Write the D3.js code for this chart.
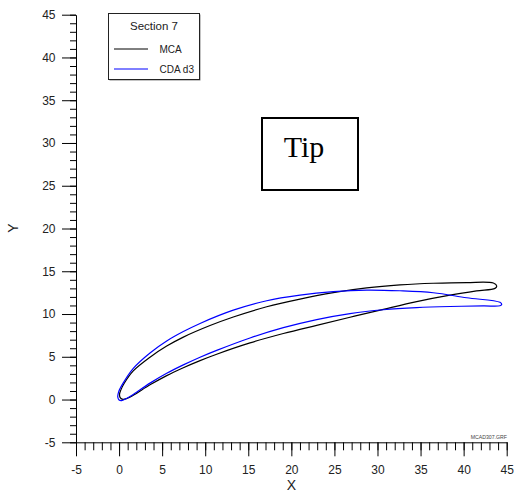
<!DOCTYPE html>
<html>
<head>
<meta charset="utf-8">
<script src="https://cdn.jsdelivr.net/npm/d3@7"></script>
<style>
  body { margin: 0; background: white; }
  text { font-family: "Liberation Sans", Arial, sans-serif; }
</style>
</head>
<body>
<div class="svg-container"></div>
<script>
/*** Data ***/

// MCA section: from the nose along the upper side to the trailing edge, then back along the lower side
let mcaX = [0.05, 0.2, 0.6, 1.65, 3.59, 5.53, 7.46, 10.56, 13.26, 17.14, 21.0, 24.87, 28.75, 32.61, 36.48, 40.36, 43.45, 43.84,
            43.64, 41.5, 38.42, 34.55, 30.68, 26.81, 22.94, 19.07, 15.20, 11.33, 9.40, 7.46, 5.53, 3.59, 1.65, 0.9, 0.45, 0.15]
let mcaY = [0.6, 1.1, 1.9, 3.35, 4.95, 6.25, 7.30, 8.65, 9.65, 10.85, 11.75, 12.50, 13.05, 13.40, 13.60, 13.68, 13.62, 13.27,
            13.0, 12.7, 12.2, 11.45, 10.55, 9.62, 8.68, 7.72, 6.62, 5.30, 4.55, 3.72, 2.80, 1.72, 0.50, 0.12, 0.02, 0.2]

// CDA d3 section
let cdaX = [-0.15, -0.05, 0.4, 1.65, 3.59, 5.53, 7.46, 9.40, 13.26, 17.14, 21.0, 24.87, 28.75, 32.61, 36.48, 40.36, 44.22, 44.42,
            44.22, 42.29, 38.42, 34.55, 30.68, 26.81, 22.94, 19.07, 15.20, 11.33, 9.40, 7.46, 5.53, 3.59, 1.65, 0.8, 0.3, 0.0]
let cdaY = [0.3, 0.9, 1.8, 3.65, 5.45, 6.85, 7.95, 8.90, 10.45, 11.55, 12.20, 12.61, 12.80, 12.72, 12.49, 11.90, 11.37, 11.13,
            10.97, 10.95, 10.88, 10.75, 10.50, 10.05, 9.35, 8.40, 7.20, 5.75, 4.95, 4.05, 3.07, 1.92, 0.60, 0.1, -0.12, -0.05]

let majorTicks = d3.range(-5, 46, 5)
let minorTicks = d3.range(-5, 46, 1)

let legendNames = ['MCA', 'CDA d3']
let legendColors = ['black', 'blue']

const svgWidth = 514
const svgHeight = 492

let svg = d3.select('.svg-container')
    .append('svg')
    .attr('width', svgWidth)
    .attr('height', svgHeight)

/* Scales */

let xScale = d3.scaleLinear()
    .domain([-5, 45])
    .range([76, 506.7])

let yScale = d3.scaleLinear()
    .domain([-5, 45])
    .range([442.3, 14.7])

/* Axes: minor ticks first, then major with labels */

let plainNum = d => String(d)   // hyphen minus like the original, not U+2212

svg.append('g')
    .attr('transform', `translate(0, ${yScale(-5)})`)
    .call(d3.axisBottom(xScale).tickValues(minorTicks).tickSize(8).tickSizeOuter(0).tickFormat(''))
    .call(g => g.select('.domain').remove())

let xAxis = svg.append('g')
    .attr('transform', `translate(0, ${yScale(-5)})`)
    .call(d3.axisBottom(xScale).tickValues(majorTicks).tickSize(14).tickSizeOuter(0).tickPadding(9).tickFormat(plainNum))

svg.append('g')
    .attr('transform', `translate(${xScale(-5)}, 0)`)
    .call(d3.axisLeft(yScale).tickValues(minorTicks).tickSize(6).tickSizeOuter(0).tickFormat(''))
    .call(g => g.select('.domain').remove())

let yAxis = svg.append('g')
    .attr('transform', `translate(${xScale(-5)}, 0)`)
    .call(d3.axisLeft(yScale).tickValues(majorTicks).tickSize(14).tickSizeOuter(0).tickPadding(6.5).tickFormat(plainNum))

svg.selectAll('.tick text')
    .style('font-size', '12px')
    .attr('fill', '#222')

svg.selectAll('.domain, .tick line')
    .attr('stroke', 'black')

// axis titles
svg.append('text')
    .attr('x', 291.5)
    .attr('y', 490)
    .style('text-anchor', 'middle')
    .style('font-size', '14px')
    .attr('fill', '#222')
    .text('X')

svg.append('text')
    .attr('transform', 'translate(18, 228) rotate(-90)')
    .style('text-anchor', 'middle')
    .style('font-size', '14px')
    .attr('fill', '#222')
    .text('Y')

svg.append('text')
    .attr('x', 507)
    .attr('y', 438.7)
    .style('text-anchor', 'end')
    .style('font-size', '5.2px')
    .attr('fill', '#444')
    .text('MCAD307.GRF')

/* Sections */

let line = d3.line()
    .x(d => xScale(d[0]))
    .y(d => yScale(d[1]))
    .curve(d3.curveCatmullRomClosed.alpha(0.5))

let sections = [
    {pts: d3.zip(mcaX, mcaY), color: legendColors[0]},
    {pts: d3.zip(cdaX, cdaY), color: legendColors[1]}
]

svg.selectAll('path.section')
    .data(sections)
    .enter()
    .append('path')
    .attr('class', 'section')
    .attr('d', d => line(d.pts))
    .attr('fill', 'none')
    .attr('stroke', d => d.color)
    .attr('stroke-width', 1.2)

/* Legend */

let legend = svg.append('g')

legend.append('rect')
    .attr('x', 109.5)
    .attr('y', 14.5)
    .attr('width', 91)
    .attr('height', 66)
    .attr('fill', '#888')

legend.append('rect')
    .attr('x', 108.5)
    .attr('y', 13.5)
    .attr('width', 91)
    .attr('height', 66)
    .attr('fill', 'white')
    .attr('stroke', '#222')

legend.append('text')
    .attr('x', 154)
    .attr('y', 30)
    .style('text-anchor', 'middle')
    .style('font-size', '11.5px')
    .attr('fill', '#222')
    .text('Section 7')

let entry = legend.selectAll('g.entry')
    .data(legendNames)
    .enter()
    .append('g')
    .attr('class', 'entry')
    .attr('transform', (d, i) => `translate(0, ${49 + i * 20})`)

entry.append('line')
    .attr('x1', 114)
    .attr('x2', 148)
    .attr('stroke', (d, i) => legendColors[i])
    .attr('stroke-width', 1)

entry.append('text')
    .attr('x', 159.5)
    .attr('y', 3.5)
    .style('font-size', '10px')
    .attr('fill', '#222')
    .text(d => d)

/* Tip box */

svg.append('rect')
    .attr('x', 262)
    .attr('y', 118)
    .attr('width', 96)
    .attr('height', 72)
    .attr('fill', 'none')
    .attr('stroke', 'black')
    .attr('stroke-width', 2)

svg.append('text')
    .attr('x', 304)
    .attr('y', 157)
    .style('text-anchor', 'middle')
    .style('font-family', '"Liberation Serif", "Times New Roman", serif')
    .style('font-size', '30px')
    .attr('fill', 'black')
    .text('Tip')
</script>
</body>
</html>
